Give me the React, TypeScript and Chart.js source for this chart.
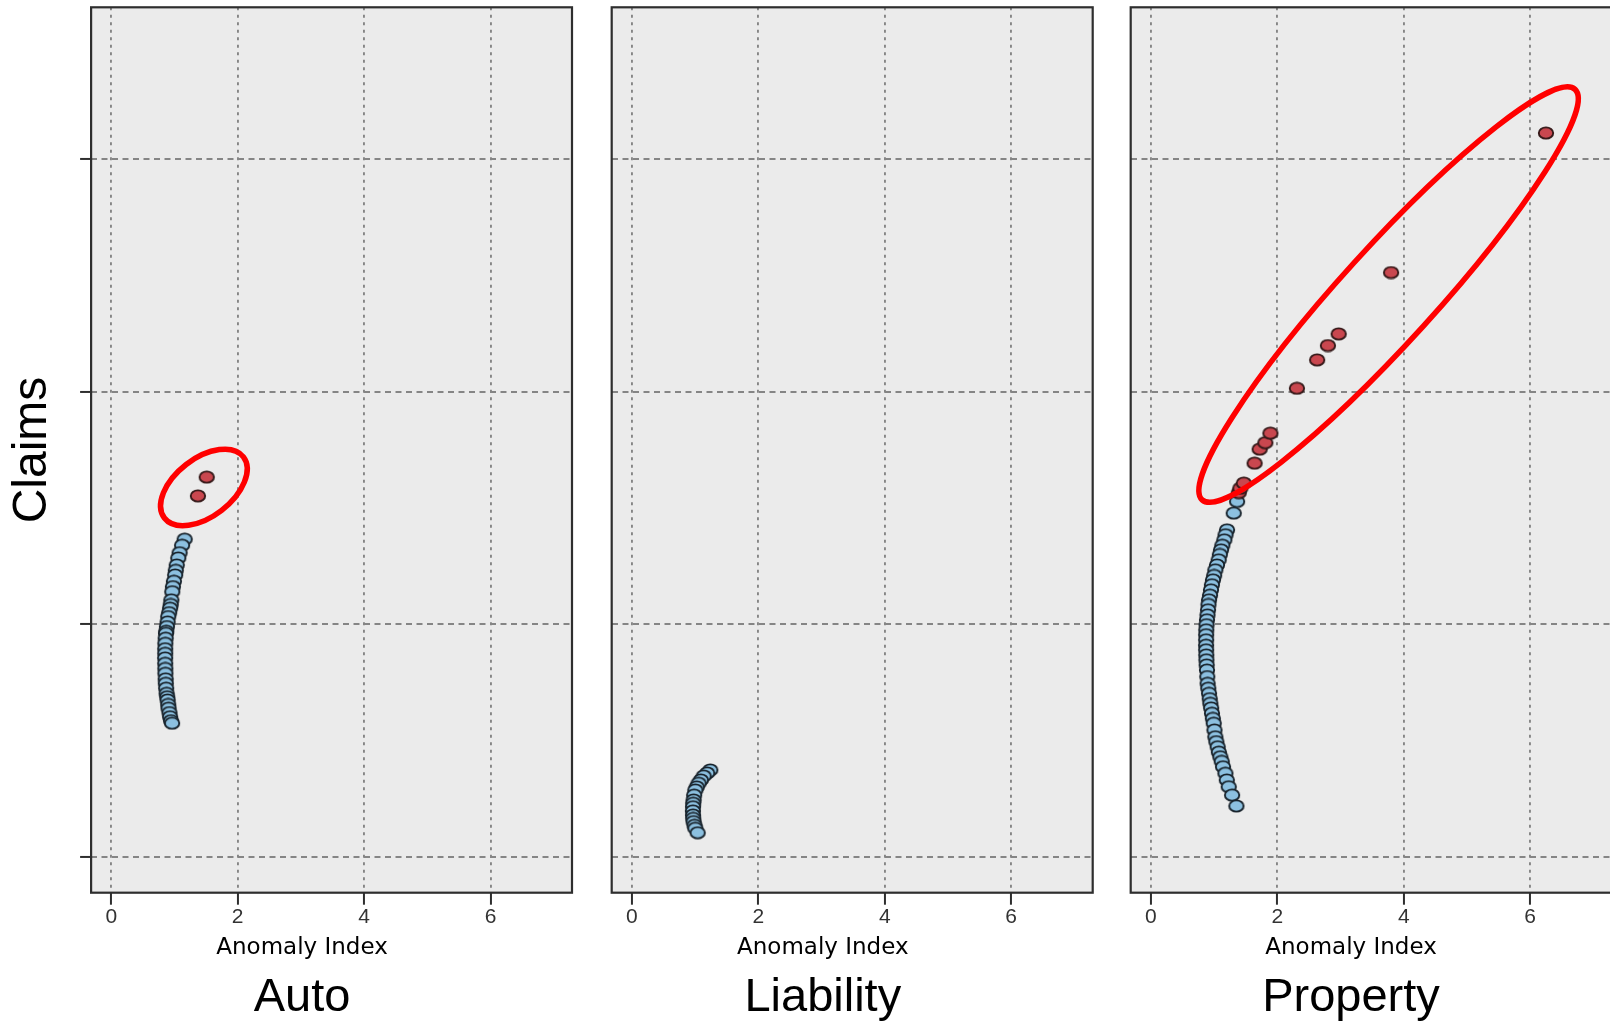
import React, { useEffect, useRef } from 'react';
import { Chart, registerables } from 'chart.js';

Chart.register(...registerables);

// ---------------- data ----------------
const panelNames = ['Auto', 'Liability', 'Property'];
const xTickValues = [0, 2, 4, 6];
const yTickValues = [0, 1, 2, 3];
const xAxisLabel = 'Anomaly Index';
const yAxisLabel = 'Claims';
const xRange = [-0.32, 7.29];
const yRange = [-0.155, 3.654];

const autoNormal: [number, number][] = [
  [1.16, 1.366], [1.12, 1.34], [1.08, 1.308], [1.06, 1.285], [1.035, 1.255], [1.02, 1.232],
  [1.01, 1.212], [0.99, 1.185], [0.975, 1.162], [0.965, 1.14], [0.95, 1.105], [0.94, 1.085],
  [0.93, 1.069], [0.915, 1.05], [0.9, 1.033], [0.89, 1.01], [0.88, 0.99], [0.87, 0.97],
  [0.865, 0.961], [0.86, 0.94], [0.855, 0.918], [0.853, 0.895], [0.853, 0.875], [0.852, 0.855],
  [0.853, 0.832], [0.855, 0.81], [0.856, 0.789], [0.86, 0.765], [0.862, 0.746], [0.868, 0.725],
  [0.875, 0.703], [0.885, 0.688], [0.89, 0.674], [0.9, 0.655], [0.905, 0.639], [0.92, 0.62],
  [0.93, 0.602], [0.945, 0.585], [0.962, 0.574],
];
const autoOutliers: [number, number][] = [
  [1.37, 1.552], [1.51, 1.633],
];

const liabilityNormal: [number, number][] = [
  [1.24, 0.373], [1.19, 0.36], [1.135, 0.347], [1.09, 0.33], [1.055, 0.316], [1.025, 0.3],
  [1.003, 0.287], [0.985, 0.265], [0.976, 0.244], [0.97, 0.23], [0.967, 0.215], [0.965, 0.197],
  [0.967, 0.179], [0.97, 0.165], [0.976, 0.151], [0.99, 0.135], [1.003, 0.122], [1.04, 0.103],
];
const liabilityOutliers: [number, number][] = [];

const propertyNormal: [number, number][] = [
  [1.363, 1.528], [1.31, 1.478], [1.204, 1.406], [1.18, 1.385], [1.162, 1.363], [1.13, 1.34],
  [1.109, 1.32], [1.09, 1.3], [1.072, 1.277], [1.045, 1.255], [1.019, 1.234], [1.0, 1.21],
  [0.982, 1.191], [0.965, 1.17], [0.95, 1.148], [0.935, 1.125], [0.919, 1.105], [0.91, 1.085],
  [0.903, 1.062], [0.895, 1.04], [0.887, 1.019], [0.88, 0.998], [0.876, 0.976], [0.874, 0.955],
  [0.874, 0.933], [0.873, 0.91], [0.874, 0.89], [0.876, 0.868], [0.878, 0.847], [0.882, 0.825],
  [0.887, 0.803], [0.892, 0.775], [0.897, 0.746], [0.907, 0.725], [0.919, 0.703], [0.93, 0.68],
  [0.94, 0.66], [0.953, 0.64], [0.966, 0.617], [0.98, 0.595], [0.993, 0.574], [1.005, 0.545],
  [1.019, 0.516], [1.035, 0.495], [1.056, 0.473], [1.075, 0.45], [1.098, 0.43], [1.12, 0.41],
  [1.141, 0.387], [1.178, 0.359], [1.2, 0.33], [1.231, 0.301], [1.284, 0.265], [1.352, 0.218],
];
const propertyOutliers: [number, number][] = [
  [1.39, 1.566], [1.415, 1.585], [1.47, 1.607], [1.64, 1.693], [1.72, 1.753], [1.81, 1.781],
  [1.89, 1.822], [2.31, 2.015], [2.63, 2.137], [2.8, 2.199], [2.97, 2.249], [3.8, 2.513],
  [6.25, 3.113],
];

// highlight rings: ends of the long axis, in data units
const autoRing: [number, number][] = [[0.84, 1.457], [2.09, 1.72]];
const propertyRing: [number, number][] = [[0.81, 1.535], [6.71, 3.301]];

const panelNormal = [autoNormal, liabilityNormal, propertyNormal];
const panelOutliers = [autoOutliers, liabilityOutliers, propertyOutliers];
const panelRings: ([number, number][] | null)[] = [autoRing, null, propertyRing];

// ---------------- layout / style ----------------
const LAYOUT = [
  { left: 0, width: 592, padL: 32, padR: 20, yAxisW: 59.1, showY: true, ringMinor: 29 },
  { left: 552, width: 560, padL: 0.9, padR: 19.3, yAxisW: 58.8, showY: false, ringMinor: 0 },
  { left: 1090, width: 540, padL: 0.3, padR: 18.3, yAxisW: 40.4, showY: false, ringMinor: 47 },
];
const H = 1026;
const SANS = '"Liberation Sans", Arial, sans-serif';
const GRID = '#858585';

function makeDot(fill: string, stroke: string): HTMLCanvasElement {
  const c = document.createElement('canvas');
  c.width = 18;
  c.height = 14;
  const g = c.getContext('2d')!;
  g.beginPath();
  g.ellipse(9, 7, 7.2, 5.6, 0, 0, Math.PI * 2);
  g.fillStyle = fill;
  g.fill();
  g.lineWidth = 1.9;
  g.strokeStyle = stroke;
  g.stroke();
  return c;
}

export default function App() {
  const refs = [useRef<HTMLCanvasElement>(null), useRef<HTMLCanvasElement>(null), useRef<HTMLCanvasElement>(null)];

  useEffect(() => {
    const blueDot = makeDot('#8cc0e0', '#18232c');
    const redDot = makeDot('#c9474f', '#341818');
    const charts: Chart[] = [];

    LAYOUT.forEach((lay, i) => {
      const canvas = refs[i].current;
      if (!canvas) return;
      const ring = panelRings[i];

      const framePlugin = {
        id: 'panelFrame' + i,
        beforeDraw(chart: any) {
          const { ctx, chartArea: a } = chart;
          ctx.save();
          ctx.fillStyle = '#ebebeb';
          ctx.fillRect(a.left, a.top, a.right - a.left, a.bottom - a.top);
          ctx.restore();
        },
        afterDatasetsDraw(chart: any) {
          if (!ring) return;
          const { ctx } = chart;
          const xs = chart.scales.x;
          const ys = chart.scales.y;
          const x1 = xs.getPixelForValue(ring[0][0]);
          const y1 = ys.getPixelForValue(ring[0][1]);
          const x2 = xs.getPixelForValue(ring[1][0]);
          const y2 = ys.getPixelForValue(ring[1][1]);
          const cx = (x1 + x2) / 2;
          const cy = (y1 + y2) / 2;
          const a = Math.hypot(x2 - x1, y2 - y1) / 2;
          const ang = Math.atan2(y2 - y1, x2 - x1);
          ctx.save();
          ctx.beginPath();
          ctx.ellipse(cx, cy, a, lay.ringMinor, ang, 0, Math.PI * 2);
          ctx.strokeStyle = '#ff0000';
          ctx.lineWidth = 5.5;
          ctx.stroke();
          ctx.restore();
        },
        afterDraw(chart: any) {
          const { ctx, chartArea: a } = chart;
          ctx.save();
          ctx.strokeStyle = '#2e2e2e';
          ctx.lineWidth = 2.2;
          ctx.strokeRect(a.left, a.top, a.right - a.left, a.bottom - a.top);
          ctx.restore();
        },
      };

      const chart = new Chart(canvas, {
        type: 'scatter',
        data: {
          datasets: [
            {
              label: 'outlier',
              data: panelOutliers[i].map(([x, y]) => ({ x, y })),
              pointStyle: redDot as any,
              pointRadius: 6,
              order: 0,
            },
            {
              label: 'normal',
              data: panelNormal[i].map(([x, y]) => ({ x, y })),
              pointStyle: blueDot as any,
              pointRadius: 6,
              order: 1,
            },
          ],
        },
        options: {
          responsive: false,
          animation: false,
          events: [],
          layout: { padding: { left: lay.padL, right: lay.padR, top: 7.3, bottom: 0 } },
          plugins: {
            legend: { display: false },
            tooltip: { enabled: false },
            title: {
              display: true,
              text: panelNames[i],
              position: 'bottom',
              color: '#000',
              font: { family: SANS, size: 47, weight: 'normal' },
              padding: { top: 0.9, bottom: 0 },
            },
            subtitle: {
              display: true,
              text: xAxisLabel,
              position: 'bottom',
              color: '#000',
              font: { family: '"DejaVu Sans", sans-serif', size: 23, weight: 'normal' },
              padding: { top: 0, bottom: 7.2 },
            },
          },
          scales: {
            x: {
              type: 'linear',
              min: xRange[0],
              max: xRange[1],
              afterBuildTicks: (s: any) => { s.ticks = xTickValues.map((v) => ({ value: v })); },
              afterFit: (s: any) => { s.height = 41.2; },
              ticks: { color: '#333', padding: 0, font: { family: SANS, size: 21 } },
              grid: {
                color: GRID,
                lineWidth: 1.9,
                drawTicks: true,
                tickLength: 12,
                tickColor: '#2e2e2e',
                tickWidth: 2,
                tickBorderDash: [],
              },
              border: { display: false, dash: [3, 4.5] },
            },
            y: {
              type: 'linear',
              min: yRange[0],
              max: yRange[1],
              afterBuildTicks: (s: any) => { s.ticks = yTickValues.map((v) => ({ value: v })); },
              afterFit: (s: any) => { s.width = lay.yAxisW; },
              ticks: { display: false },
              grid: {
                color: GRID,
                lineWidth: 1.9,
                drawTicks: lay.showY,
                tickLength: 11,
                tickColor: '#2e2e2e',
                tickWidth: 2,
                tickBorderDash: [],
              },
              border: { display: false, dash: [6, 4.5] },
              title: {
                display: lay.showY,
                text: yAxisLabel,
                color: '#000',
                font: { family: SANS, size: 48, weight: 'normal' },
                padding: { top: -28.3, bottom: 0 },
              },
            },
          },
        } as any,
        plugins: [framePlugin as any],
      });
      charts.push(chart);
    });

    return () => { charts.forEach((c) => c.destroy()); };
  }, []);

  return (
    <div
      style={{
        position: 'fixed',
        left: 0,
        top: 0,
        width: 1610,
        height: H,
        overflow: 'hidden',
        background: '#ffffff',
      }}
    >
      {LAYOUT.map((lay, i) => (
        <canvas
          key={i}
          ref={refs[i]}
          width={lay.width}
          height={H}
          style={{ position: 'absolute', left: lay.left, top: 0, width: lay.width, height: H }}
        />
      ))}
    </div>
  );
}
